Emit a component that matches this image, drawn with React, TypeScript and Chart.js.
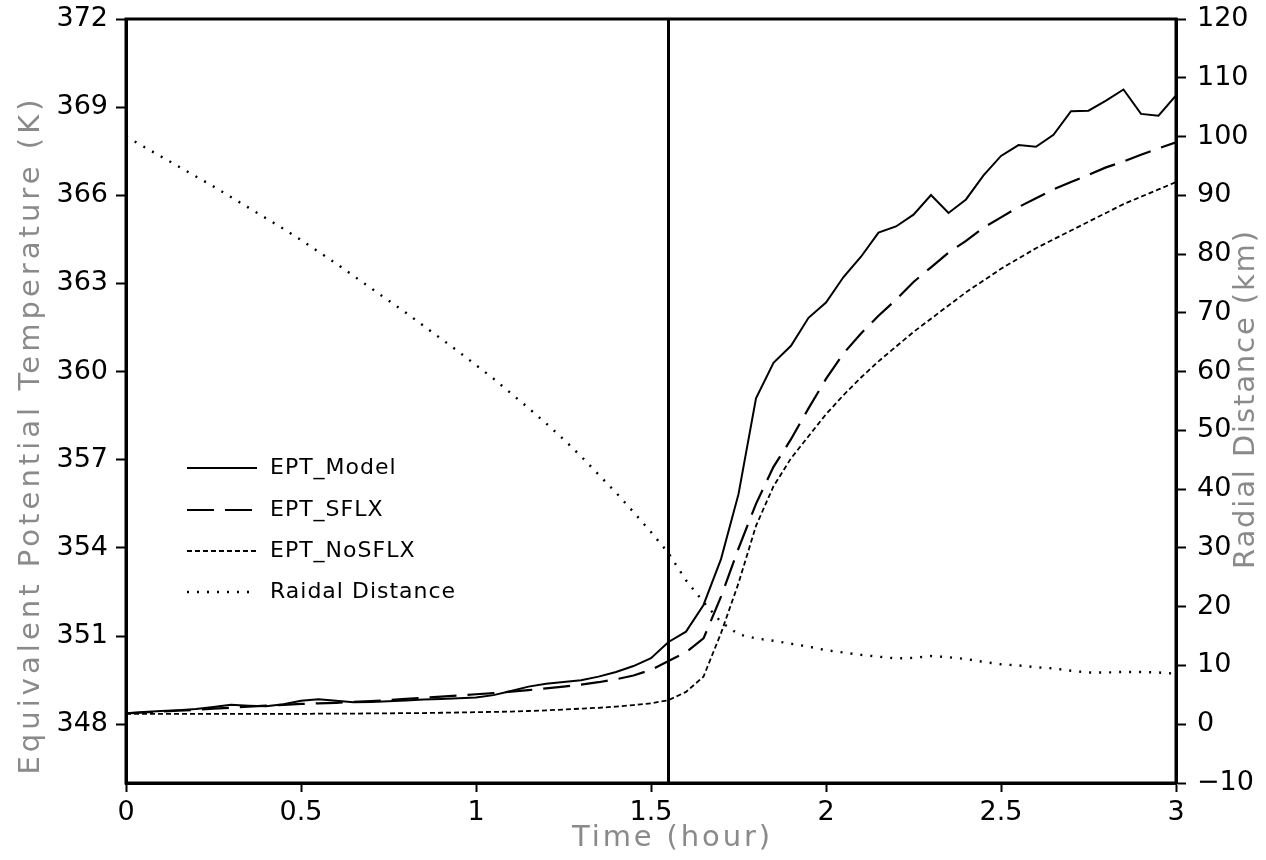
import React, { useEffect, useRef } from "react";
import { Chart, registerables } from "chart.js";

Chart.register(...registerables);

const TIME = [
  0.0, 0.05, 0.1, 0.15, 0.2, 0.25, 0.3, 0.35, 0.4, 0.45,
  0.5, 0.55, 0.6, 0.65, 0.7, 0.75, 0.8, 0.85, 0.9, 0.95,
  1.0, 1.05, 1.1, 1.15, 1.2, 1.25, 1.3, 1.35, 1.4, 1.45,
  1.5, 1.55, 1.6, 1.65, 1.7, 1.75, 1.8, 1.85, 1.9, 1.95,
  2.0, 2.05, 2.1, 2.15, 2.2, 2.25, 2.3, 2.35, 2.4, 2.45,
  2.5, 2.55, 2.6, 2.65, 2.7, 2.75, 2.8, 2.85, 2.9, 2.95,
  3.0,
];

const EPT_MODEL = [
  348.37, 348.42, 348.45, 348.48, 348.52, 348.59, 348.66, 348.63, 348.61, 348.68,
  348.8, 348.85, 348.8, 348.75, 348.76, 348.78, 348.81, 348.84, 348.86, 348.88,
  348.91, 348.99, 349.13, 349.28, 349.38, 349.44, 349.5, 349.62, 349.78, 349.98,
  350.25, 350.8, 351.15, 352.06, 353.62, 355.83, 359.09, 360.3, 360.88, 361.83,
  362.35, 363.22, 363.91, 364.73, 364.94, 365.34, 366.01, 365.4, 365.86, 366.68,
  367.34, 367.71, 367.65, 368.06, 368.86, 368.88, 369.22, 369.6, 368.77, 368.71,
  369.4,
];

const EPT_SFLX = [
  348.37, 348.4, 348.43, 348.46, 348.49, 348.53, 348.56, 348.6, 348.63, 348.66,
  348.69, 348.71, 348.73, 348.76, 348.79, 348.82, 348.86, 348.9, 348.94, 348.98,
  349.02, 349.06, 349.11, 349.16, 349.22, 349.28, 349.35, 349.43, 349.53, 349.66,
  349.85, 350.15, 350.45, 350.92, 352.34, 353.98, 355.5, 356.76, 357.7, 358.75,
  359.75, 360.62, 361.3, 361.9, 362.45, 363.05, 363.55, 364.05, 364.45, 364.9,
  365.25, 365.6, 365.9, 366.2, 366.45, 366.7, 366.95, 367.15, 367.38, 367.6,
  367.8,
];

const EPT_NOSFLX = [
  348.35, 348.35, 348.35, 348.35, 348.35, 348.35, 348.35, 348.35, 348.35, 348.35,
  348.35, 348.36, 348.36, 348.36, 348.37, 348.37, 348.38, 348.38, 348.39, 348.4,
  348.41, 348.42, 348.43, 348.45, 348.47, 348.5, 348.53, 348.56, 348.6, 348.65,
  348.71, 348.82, 349.1, 349.62, 351.1, 352.8, 354.75, 356.1, 357.05, 357.8,
  358.55, 359.2, 359.8, 360.35, 360.85, 361.35, 361.8, 362.25, 362.7, 363.1,
  363.5, 363.85, 364.2, 364.5, 364.8, 365.1, 365.4, 365.7, 365.95, 366.2,
  366.45,
];

const RADIAL_DISTANCE = [
  100.0, 98.3, 96.6, 94.9, 93.2, 91.5, 89.7, 87.9, 86.1, 84.3,
  82.4, 80.4, 78.4, 76.3, 74.2, 72.1, 70.0, 67.8, 65.6, 63.4,
  61.1, 58.8, 56.3, 53.8, 51.2, 48.5, 45.6, 42.5, 39.4, 36.1,
  32.7, 29.1, 24.5, 20.8, 17.4, 15.3, 14.6, 14.2, 13.7, 13.2,
  12.6, 12.2, 11.8, 11.5, 11.2, 11.3, 11.6, 11.4, 11.1, 10.6,
  10.2, 10.0, 9.7, 9.5, 9.1, 8.8, 8.8, 8.9, 8.9, 8.8,
  8.6,
];

const SERIES_LABELS = ["EPT_Model", "EPT_SFLX", "EPT_NoSFLX", "Raidal Distance"];
const X_TICKS = [0, 0.5, 1, 1.5, 2, 2.5, 3];
const X_TICK_LABELS = ["0", "0.5", "1", "1.5", "2", "2.5", "3"];
const LEFT_TICKS = [348, 351, 354, 357, 360, 363, 366, 369, 372];
const RIGHT_TICKS = [-10, 0, 10, 20, 30, 40, 50, 60, 70, 80, 90, 100, 110, 120];
const MARKER_TIME = 1.55;
const X_TITLE = "Time (hour)";
const Y_TITLE = "Equivalent Potential Temperature (K)";
const Y1_TITLE = "Radial Distance (km)";

const TICK_FONT = { family: "'DejaVu Sans', sans-serif", size: 27 };
const TITLE_FONT = "29px 'DejaVu Sans', sans-serif";
const TITLE_COLOR = "#8a8a8a";

function drawSpacedText(ctx: any, text: string, cx: number, cy: number, width: number, rot: number) {
  ctx.save();
  ctx.translate(cx, cy);
  ctx.rotate(rot);
  ctx.font = TITLE_FONT;
  ctx.fillStyle = TITLE_COLOR;
  ctx.textBaseline = "middle";
  ctx.textAlign = "left";
  const base = ctx.measureText(text).width;
  const n = text.length;
  const sp = Math.max(0, (width - base) / (n - 1));
  try {
    ctx.letterSpacing = sp + "px";
    const w = ctx.measureText(text).width;
    ctx.fillText(text, -w / 2 + sp / 2, 0);
  } catch (e) {
    ctx.fillText(text, -base / 2, 0);
  }
  ctx.restore();
}

const zeroPad = (s: any) => {
  s.paddingTop = 0;
  s.paddingBottom = 0;
  s.paddingLeft = 0;
  s.paddingRight = 0;
};

const decorPlugin = {
  id: "decor",
  beforeDatasetsDraw(chart: any) {
    const { ctx, chartArea, scales } = chart;
    const x = scales.x.getPixelForValue(MARKER_TIME);
    ctx.save();
    ctx.strokeStyle = "#000";
    ctx.lineWidth = 3;
    ctx.beginPath();
    ctx.moveTo(x, chartArea.top);
    ctx.lineTo(x, chartArea.bottom);
    ctx.stroke();
    ctx.restore();
  },
  afterDraw(chart: any) {
    const { ctx, chartArea } = chart;
    ctx.save();
    ctx.strokeStyle = "#000";
    ctx.lineWidth = 3;
    ctx.strokeRect(chartArea.left, chartArea.top, chartArea.right - chartArea.left, chartArea.bottom - chartArea.top);
    ctx.restore();

    drawSpacedText(ctx, X_TITLE, chartArea.left + 545, chartArea.bottom + 55, 198, 0);
    drawSpacedText(ctx, Y_TITLE, 31, 437, 675, -Math.PI / 2);
    drawSpacedText(ctx, Y1_TITLE, 1246, 400, 338, -Math.PI / 2);

    const x0 = chartArea.left + 61;
    const x1 = chartArea.left + 131;
    const tx = chartArea.left + 144;
    const rows = [468, 510, 551, 592];
    chart.data.datasets.forEach((ds: any, i: number) => {
      const y = rows[i];
      ctx.save();
      ctx.strokeStyle = "#000";
      ctx.lineWidth = ds.borderWidth;
      ctx.setLineDash(ds.borderDash || []);
      ctx.beginPath();
      ctx.moveTo(x0, y);
      ctx.lineTo(x1, y);
      ctx.stroke();
      ctx.setLineDash([]);
      ctx.fillStyle = "#000";
      ctx.font = "22px 'DejaVu Sans', sans-serif";
      ctx.textBaseline = "middle";
      ctx.textAlign = "left";
      try {
        ctx.letterSpacing = "1px";
      } catch (e) {}
      ctx.fillText(ds.label, tx, y);
      ctx.restore();
    });
  },
};

export default function App() {
  const ref = useRef<HTMLCanvasElement | null>(null);

  useEffect(() => {
    if (!ref.current) return;
    const mk = (arr: number[]) => TIME.map((t, i) => ({ x: t, y: arr[i] }));
    const chart = new Chart(ref.current, {
      type: "line",
      data: {
        datasets: [
          {
            label: SERIES_LABELS[0],
            data: mk(EPT_MODEL),
            borderColor: "#000",
            borderWidth: 2,
            borderDash: [],
            pointRadius: 0,
            tension: 0,
            yAxisID: "y",
          },
          {
            label: SERIES_LABELS[1],
            data: mk(EPT_SFLX),
            borderColor: "#000",
            borderWidth: 2.2,
            borderDash: [27, 11],
            pointRadius: 0,
            tension: 0,
            yAxisID: "y",
          },
          {
            label: SERIES_LABELS[2],
            data: mk(EPT_NOSFLX),
            borderColor: "#000",
            borderWidth: 1.8,
            borderDash: [5, 3],
            pointRadius: 0,
            tension: 0,
            yAxisID: "y",
          },
          {
            label: SERIES_LABELS[3],
            data: mk(RADIAL_DISTANCE),
            borderColor: "#000",
            borderWidth: 2.4,
            borderDash: [2, 8],
            pointRadius: 0,
            tension: 0,
            yAxisID: "y1",
          },
        ],
      },
      options: {
        responsive: false,
        animation: false,
        devicePixelRatio: 1,
        layout: { padding: { top: 19, left: 0, right: 0, bottom: 0 } },
        plugins: { legend: { display: false }, tooltip: { enabled: false }, title: { display: false } },
        scales: {
          x: {
            type: "linear",
            min: 0,
            max: 3,
            position: "bottom",
            afterBuildTicks: (s: any) => {
              s.ticks = X_TICKS.map((v) => ({ value: v }));
            },
            afterFit: (s: any) => {
              s.height = 77;
              zeroPad(s);
            },
            ticks: {
              color: "#000",
              font: TICK_FONT,
              padding: 5,
              maxRotation: 0,
              autoSkip: false,
              callback: (v: any) => {
                const i = X_TICKS.indexOf(Number(v));
                return i >= 0 ? X_TICK_LABELS[i] : "";
              },
            },
            grid: { drawOnChartArea: false, drawTicks: true, tickLength: 9, tickWidth: 2, tickColor: "#000" },
            border: { display: true, color: "#000", width: 3 },
          },
          y: {
            type: "linear",
            position: "left",
            min: 346,
            max: 372,
            afterBuildTicks: (s: any) => {
              s.ticks = LEFT_TICKS.map((v) => ({ value: v }));
            },
            afterFit: (s: any) => {
              s.width = 126;
              zeroPad(s);
            },
            ticks: { color: "#000", font: TICK_FONT, padding: 8, autoSkip: false, callback: (v: any) => String(v) },
            grid: { drawOnChartArea: false, drawTicks: true, tickLength: 10, tickWidth: 2, tickColor: "#000" },
            border: { display: true, color: "#000", width: 3 },
          },
          y1: {
            type: "linear",
            position: "right",
            min: -10,
            max: 120,
            afterBuildTicks: (s: any) => {
              s.ticks = RIGHT_TICKS.map((v) => ({ value: v }));
            },
            afterFit: (s: any) => {
              s.width = 90;
              zeroPad(s);
            },
            ticks: {
              color: "#000",
              font: TICK_FONT,
              padding: 11,
              autoSkip: false,
              callback: (v: any) => (Number(v) < 0 ? "\u2212" + Math.abs(Number(v)) : String(v)),
            },
            grid: { drawOnChartArea: false, drawTicks: true, tickLength: 10, tickWidth: 2, tickColor: "#000" },
            border: { display: true, color: "#000", width: 3 },
          },
        },
      },
      plugins: [decorPlugin],
    } as any);
    return () => chart.destroy();
  }, []);

  return (
    <div style={{ position: "fixed", left: 0, top: 0, width: 1266, height: 860, background: "#fff" }}>
      <canvas ref={ref} width={1266} height={860} style={{ width: 1266, height: 860, display: "block" }} />
    </div>
  );
}
